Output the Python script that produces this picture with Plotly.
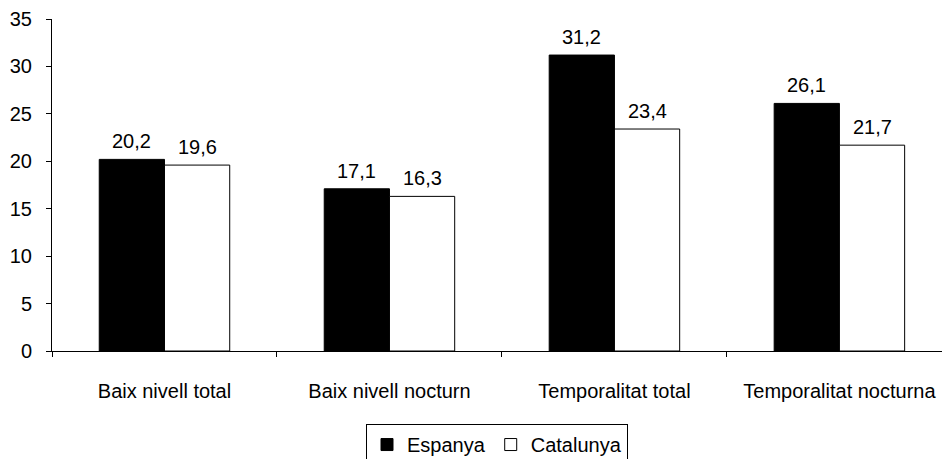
import plotly.graph_objects as go

categories = ["Baix nivell total", "Baix nivell nocturn", "Temporalitat total", "Temporalitat nocturna"]
espanya = [20.2, 17.1, 31.2, 26.1]
catalunya = [19.6, 16.3, 23.4, 21.7]
yticks = [0, 5, 10, 15, 20, 25, 30, 35]

def fmt(v):
    return f"{v:.1f}".replace(".", ",")

FONT_FAMILY = "Liberation Sans, Arial, sans-serif"
font = dict(family=FONT_FAMILY, size=20, color="black")

BARGAP = 0.42
CAT_PX = 225.0  # approx pixel width of one category
BAR_PX = CAT_PX * (1 - BARGAP) / 2

fig = go.Figure()
fig.add_trace(go.Bar(
    name="Espanya", x=categories, y=espanya,
    marker=dict(color="black", line=dict(color="black", width=1)),
))
fig.add_trace(go.Bar(
    name="Catalunya", x=categories, y=catalunya,
    marker=dict(color="white", line=dict(color="black", width=1)),
))

annotations = []
for series, sign in ((espanya, -1), (catalunya, 1)):
    for cat, v in zip(categories, series):
        annotations.append(dict(
            x=cat, y=v, xref="x", yref="y", text=fmt(v),
            showarrow=False, yanchor="bottom", xanchor="center",
            xshift=sign * BAR_PX / 2, yshift=5, font=font,
        ))

fig.update_layout(
    width=942, height=459,
    margin=dict(l=52, r=0, t=19, b=108, autoexpand=False),
    barmode="group", bargap=BARGAP, bargroupgap=0,
    plot_bgcolor="white", paper_bgcolor="white",
    font=font,
    showlegend=True,
    annotations=annotations,
    legend=dict(
        orientation="h", x=0.5, xanchor="center", y=-0.22, yanchor="top",
        bordercolor="black", borderwidth=1, font=font,
        itemwidth=30, tracegroupgap=0,
    ),
    xaxis=dict(
        type="category", range=[-0.5, 3.456], autorange=False,
        showline=True, linecolor="black", linewidth=1,
        ticks="outside", tickson="boundaries", ticklen=5, tickcolor="black",
        showgrid=False, ticklabelstandoff=22, tickfont=font,
    ),
    yaxis=dict(
        range=[0, 35], autorange=False,
        tickvals=yticks, ticktext=[str(v) for v in yticks],
        showline=True, linecolor="black", linewidth=1,
        ticks="outside", ticklen=5, tickcolor="black",
        showgrid=False, zeroline=False, tickfont=font,
        ticklabelstandoff=10,
    ),
)

fig.write_html("out.html", config={"displayModeBar": False},
               post_script="document.body.style.margin='0';")
